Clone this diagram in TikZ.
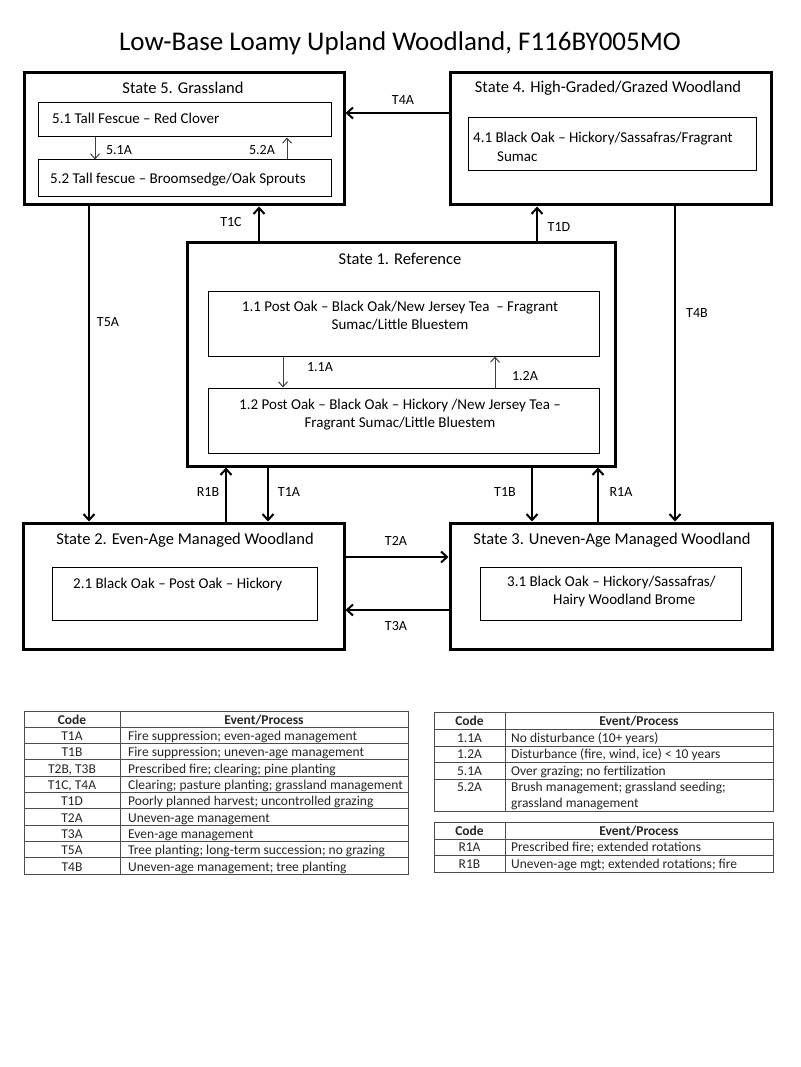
\documentclass[tikz,border=0pt]{standalone}
\usepackage{fontspec}
\setmainfont{Carlito}
\usetikzlibrary{arrows.meta}
\tikzset{
  statebox/.style={draw, line width=3pt, rectangle, inner sep=0pt},
  phasebox/.style={draw, line width=1pt, rectangle, inner sep=0pt},
  stitle/.style={font=\fontsize{16.5}{19}\selectfont, inner sep=0pt},
  ptext/.style={font=\fontsize{15}{18}\selectfont, inner sep=0pt, align=center},
  lbl/.style={font=\fontsize{14}{16}\selectfont, inner sep=0pt},
  bigarr/.style={line width=2pt, -{Straight Barb[length=6pt,width=11pt,line width=2pt]}},
  smallarr/.style={line width=1pt, draw=black!75, -{Straight Barb[length=5pt,width=9pt,line width=1pt]}},
  tline/.style={line width=1pt, draw=black!70},
  ttext/.style={font=\fontsize{13.5}{16}\selectfont, inner sep=0pt, text=black!85, anchor=base},
  ttextl/.style={ttext, anchor=base west},
  thead/.style={font=\bfseries\fontsize{13.5}{16}\selectfont, inner sep=0pt, text=black!85, anchor=base},
}
\begin{document}
\begin{tikzpicture}[x=1pt,y=-1pt]
\useasboundingbox[fill=white] (0,0) rectangle (800,1067);

% title
\node[font=\fontsize{27}{32}\selectfont, inner sep=0pt] (title) at (400,43) {Low-Base Loamy Upland Woodland, F116BY005MO};

% state boxes
\node[statebox, minimum width=320, minimum height=132] (s5) at (184,139) {};
\node[statebox, minimum width=321, minimum height=132] (s4) at (610.5,139) {};
\node[statebox, minimum width=428, minimum height=223] (s1) at (401,354.5) {};
\node[statebox, minimum width=321, minimum height=126] (s2) at (183.5,586) {};
\node[statebox, minimum width=322, minimum height=126] (s3) at (611,586) {};

% state titles
\node[stitle] (t5) at (183,88) {State 5. Grassland};
\node[stitle] (t4) at (608,88) {State 4. High-Graded/Grazed Woodland};
\node[stitle] (t1) at (400,259) {State 1. Reference};
\node[stitle] (t2) at (185,540) {State 2. Even-Age Managed Woodland};
\node[stitle] (t3) at (612,540) {State 3. Uneven-Age Managed Woodland};

% phase boxes
\node[phasebox, minimum width=293, minimum height=34] (p51) at (184.5,120) {};
\node[phasebox, minimum width=293, minimum height=37] (p52) at (184.5,178.5) {};
\node[phasebox, minimum width=288, minimum height=53] (p41) at (612,144.5) {};
\node[phasebox, minimum width=391, minimum height=65] (p11) at (403.5,323.5) {};
\node[phasebox, minimum width=391, minimum height=65] (p12) at (403.5,420.5) {};
\node[phasebox, minimum width=265, minimum height=53] (p21) at (184.5,593.5) {};
\node[phasebox, minimum width=261, minimum height=53] (p31) at (610.5,593.5) {};

% phase texts
\node[ptext, anchor=west] (x51) at (52,118) {5.1 Tall Fescue -- Red Clover};
\node[ptext, anchor=west] (x52) at (50,180) {5.2 Tall fescue -- Broomsedge/Oak Sprouts};
\node[ptext, anchor=west] (x41a) at (473,139) {4.1 Black Oak -- Hickory/Sassafras/Fragrant};
\node[ptext, anchor=west] (x41b) at (497,157) {Sumac};
\node[ptext] (x11) at (400,316) {1.1 Post Oak -- Black Oak/New Jersey Tea \ -- Fragrant\\Sumac/Little Bluestem};
\node[ptext] (x12) at (400,414.5) {1.2 Post Oak -- Black Oak -- Hickory /New Jersey Tea --\\Fragrant Sumac/Little Bluestem};
\node[ptext, anchor=west] (x21) at (73,584) {2.1 Black Oak -- Post Oak -- Hickory};
\node[ptext, anchor=west] (x31a) at (507,582) {3.1 Black Oak -- Hickory/Sassafras/};
\node[ptext, anchor=west] (x31b) at (553,600) {Hairy Woodland Brome};

% x / y helper coordinates
\coordinate (cT1C) at (259,0);
\coordinate (cT5A) at (89,0);
\coordinate (cT1D) at (537,0);
\coordinate (cT4B) at (675,0);
\coordinate (cR1B) at (226,0);
\coordinate (cT1A) at (268,0);
\coordinate (cT1B) at (532,0);
\coordinate (cR1A) at (598,0);
\coordinate (cT4A) at (0,113);
\coordinate (cT2A) at (0,557);
\coordinate (cT3A) at (0,610);
\coordinate (c51A) at (95,0);
\coordinate (c52A) at (287,0);
\coordinate (c11A) at (283,0);
\coordinate (c12A) at (495,0);

% transitions
\draw[bigarr] (s1.north -| cT1C) -- (s5.south -| cT1C);
\draw[bigarr] (s1.north -| cT1D) -- (s4.south -| cT1D);
\draw[bigarr] (s4.west |- cT4A) -- (s5.east |- cT4A);
\draw[bigarr] (s5.south -| cT5A) -- (s2.north -| cT5A);
\draw[bigarr] (s4.south -| cT4B) -- (s3.north -| cT4B);
\draw[bigarr] (s2.north -| cR1B) -- (s1.south -| cR1B);
\draw[bigarr] (s1.south -| cT1A) -- (s2.north -| cT1A);
\draw[bigarr] (s1.south -| cT1B) -- (s3.north -| cT1B);
\draw[bigarr] (s3.north -| cR1A) -- (s1.south -| cR1A);
\draw[bigarr] (s2.east |- cT2A) -- (s3.west |- cT2A);
\draw[bigarr] (s3.west |- cT3A) -- (s2.east |- cT3A);

% community pathways
\draw[smallarr] (p51.south -| c51A) -- (p52.north -| c51A);
\draw[smallarr] (p52.north -| c52A) -- (p51.south -| c52A);
\draw[smallarr] (p11.south -| c11A) -- (p12.north -| c11A);
\draw[smallarr] (p12.north -| c12A) -- (p11.south -| c12A);

% labels
\node[lbl] (lT1C) at (231,222) {T1C};
\node[lbl] (lT1D) at (559,227) {T1D};
\node[lbl] (lT4A) at (403,100) {T4A};
\node[lbl] (lT5A) at (108,322) {T5A};
\node[lbl] (lT4B) at (697,313) {T4B};
\node[lbl] (lR1B) at (208,492) {R1B};
\node[lbl] (lT1A) at (289,492) {T1A};
\node[lbl] (lT1B) at (505,492) {T1B};
\node[lbl] (lR1A) at (621,492) {R1A};
\node[lbl] (lT2A) at (396,541) {T2A};
\node[lbl] (lT3A) at (396,626) {T3A};
\node[lbl] (l51A) at (119,150) {5.1A};
\node[lbl] (l52A) at (262,150) {5.2A};
\node[lbl] (l11A) at (320,367) {1.1A};
\node[lbl] (l12A) at (525,376) {1.2A};

% ---------- left table ----------
\draw[tline] (24,711) rectangle (408,874);
\foreach \k in {1,...,9} \draw[tline] (24,{711+16.3*\k}) -- (408,{711+16.3*\k});
\draw[tline] (120,711) -- (120,874);
\node[thead] (lhc) at (72,724.5) {Code};
\node[thead] (lhe) at (264,724.5) {Event/Process};
\foreach \c/\e [count=\i] in {
  T1A/{Fire suppression; even-aged management},
  T1B/{Fire suppression; uneven-age management},
  {T2B, T3B}/{Prescribed fire; clearing; pine planting},
  {T1C, T4A}/{Clearing; pasture planting; grassland management},
  T1D/{Poorly planned harvest; uncontrolled grazing},
  T2A/{Uneven-age management},
  T3A/{Even-age management},
  T5A/{Tree planting; long-term succession; no grazing},
  T4B/{Uneven-age management; tree planting}}
{
  \node[ttext] (lc\i) at (72,{724.3+16.3*\i}) {\c};
  \node[ttextl] (le\i) at (128,{724.3+16.3*\i}) {\e};
}

% ---------- right table 1 ----------
\draw[tline] (434,712) rectangle (773,811);
\foreach \yy in {729,746,762,779} \draw[tline] (434,\yy) -- (773,\yy);
\draw[tline] (505,712) -- (505,811);
\node[thead] (r1hc) at (469.5,725) {Code};
\node[thead] (r1he) at (639,725) {Event/Process};
\node[ttext] (r1c1) at (469.5,742) {1.1A};
\node[ttextl] (r1e1) at (511,742) {No disturbance (10+ years)};
\node[ttext] (r1c2) at (469.5,758.5) {1.2A};
\node[ttextl] (r1e2) at (511,758.5) {Disturbance (fire, wind, ice) < 10 years};
\node[ttext] (r1c3) at (469.5,775) {5.1A};
\node[ttextl] (r1e3) at (511,775) {Over grazing; no fertilization};
\node[ttext] (r1c4) at (469.5,791.5) {5.2A};
\node[ttextl] (r1e4) at (511,791.5) {Brush management; grassland seeding;};
\node[ttextl] (r1e4b) at (511,807.5) {grassland management};

% ---------- right table 2 ----------
\draw[tline] (434,822) rectangle (773,872);
\foreach \yy in {839,855} \draw[tline] (434,\yy) -- (773,\yy);
\draw[tline] (505,822) -- (505,872);
\node[thead] (r2hc) at (469.5,835) {Code};
\node[thead] (r2he) at (639,835) {Event/Process};
\node[ttext] (r2c1) at (469.5,851.5) {R1A};
\node[ttextl] (r2e1) at (511,851.5) {Prescribed fire; extended rotations};
\node[ttext] (r2c2) at (469.5,868) {R1B};
\node[ttextl] (r2e2) at (511,868) {Uneven-age mgt; extended rotations; fire};
\end{tikzpicture}
\end{document}
